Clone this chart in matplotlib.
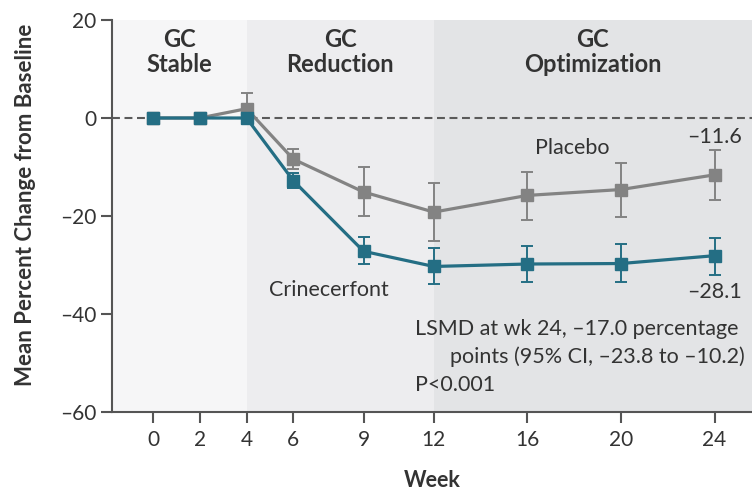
import matplotlib
matplotlib.use("Agg")
import matplotlib.pyplot as plt
import numpy as np

weeks = [0, 2, 4, 6, 9, 12, 16, 20, 24]
crin_mean = [0, 0, 0, -12.8, -27.2, -30.3, -29.8, -29.7, -28.1]
crin_lo = [0, 0, 0, -14.3, -29.8, -33.8, -33.4, -33.5, -32.0]
crin_hi = [0, 0, 0, -11.3, -24.3, -26.5, -26.1, -25.8, -24.4]
plac_mean = [0, 0, 1.9, -8.4, -15.1, -19.2, -15.8, -14.6, -11.6]
plac_lo = [0, 0, -1.3, -10.5, -20.1, -25.1, -20.8, -20.2, -16.8]
plac_hi = [0, 0, 5.2, -6.3, -10.1, -13.3, -11.0, -9.2, -6.6]

yticks = [20, 0, -20, -40, -60]
ytick_labels = ["20", "0", "\u201320", "\u201340", "\u201360"]
phases = ["GC\nStable", "GC\nReduction", "GC\nOptimization"]
phase_bounds = [4, 12]

plt.rcParams['font.family'] = ['Lato', 'DejaVu Sans']

TEAL = "#246e84"
GRAY = "#838383"
TXT = "#333333"

fig = plt.figure(figsize=(7.52, 4.9), dpi=100)
ax = fig.add_axes([112/752, 1 - 412/490, 1 - 112/752, (412 - 20)/490])

xmin, xmax = -1.75, 25.6
ax.set_xlim(xmin, xmax)
ax.set_ylim(-60, 20)

bg = ["#f6f6f7", "#ededef", "#e3e4e6"]
edges = [xmin] + phase_bounds + [xmax]
for i in range(3):
    ax.axvspan(edges[i], edges[i+1], color=bg[i], zorder=0, lw=0)
    ax.text((edges[i] + edges[i+1]) / 2, 13.5, phases[i], ha='center', va='center',
            fontsize=17, fontweight='bold', color=TXT, linespacing=1.08)

ax.axhline(0, color="#5a5a5a", lw=1.5, ls=(0, (3.8, 2.2)), zorder=1)

def draw(mean, lo, hi, color, z):
    mean = np.array(mean); lo = np.array(lo); hi = np.array(hi)
    yerr = np.vstack([mean - lo, hi - mean])
    ax.errorbar(weeks, mean, yerr=yerr, color=color, lw=2.3, marker='s', ms=8.6,
                mec=color, mfc=color, ecolor=color, elinewidth=1.4, capsize=4.5,
                capthick=1.4, zorder=z)

draw(plac_mean, plac_lo, plac_hi, GRAY, 3)
draw(crin_mean, crin_lo, crin_hi, TEAL, 4)

FS = 15.5
ax.text(17.9, -6.1, "Placebo", ha='center', va='center', fontsize=FS, color=TXT)
ax.text(7.5, -35.1, "Crinecerfont", ha='center', va='center', fontsize=FS, color=TXT)
ax.text(24, -3.9, "\u201311.6", ha='center', va='center', fontsize=FS, color=TXT)
ax.text(24, -35.5, "\u201328.1", ha='center', va='center', fontsize=FS, color=TXT)
ax.text(11.2, -43.1, "LSMD at wk 24, \u201317.0 percentage", ha='left', va='center', fontsize=FS, color=TXT)
ax.text(25.3, -48.8, "points (95% CI, \u201323.8 to \u201310.2)", ha='right', va='center', fontsize=FS, color=TXT)
ax.text(11.2, -54.5, "P<0.001", ha='left', va='center', fontsize=FS, color=TXT)

ax.set_xticks(weeks)
ax.set_xticklabels([str(w) for w in weeks])
ax.set_yticks(yticks)
ax.set_yticklabels(ytick_labels)
for s in ['top', 'right']:
    ax.spines[s].set_visible(False)
for s in ['left', 'bottom']:
    ax.spines[s].set_color("#555555")
    ax.spines[s].set_linewidth(1.5)
ax.tick_params(axis='both', colors="#555555", labelcolor=TXT, labelsize=15,
               length=8, width=1.5, direction='out')
ax.tick_params(axis='x', pad=5)
ax.tick_params(axis='y', pad=3)

ax.set_xlabel("Week", fontsize=15.5, fontweight='bold', color=TXT)
ax.set_ylabel("Mean Percent Change from Baseline", fontsize=16, fontweight='bold',
              color=TXT)
ax.xaxis.set_label_coords((432 - 112) / 640, -(470 - 412) / 392)
ax.yaxis.set_label_coords(-(112 - 36) / 640, (412 - 205) / 392)

fig.savefig("out.png", dpi=100)
